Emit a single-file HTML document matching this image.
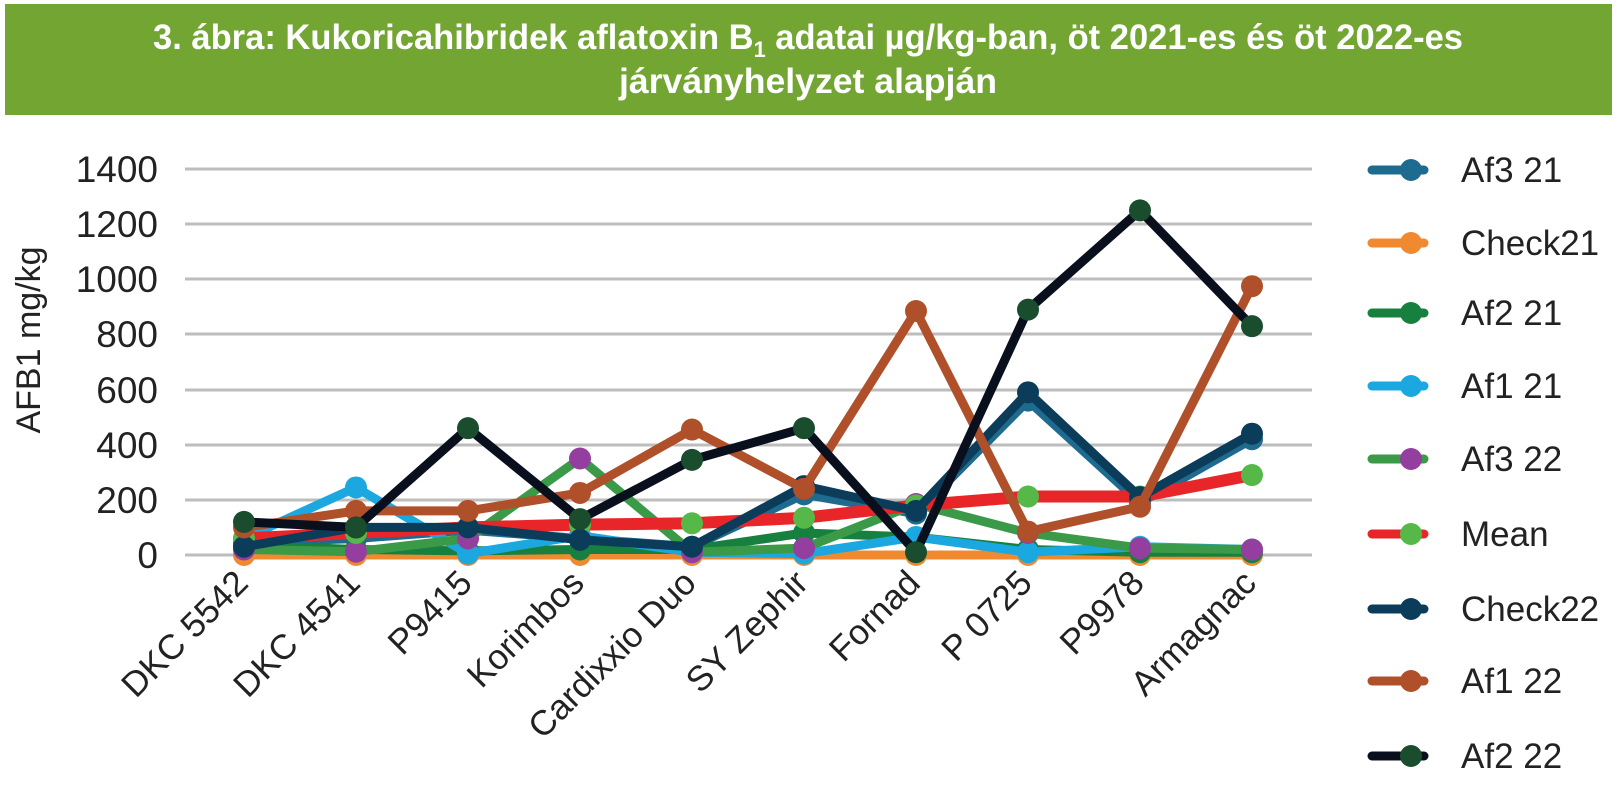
<!DOCTYPE html>
<html><head><meta charset="utf-8"><style>
body{margin:0;background:#fff;width:1617px;height:804px;overflow:hidden;font-family:"Liberation Sans",sans-serif}
</style></head><body>
<svg width="1617" height="804" viewBox="0 0 1617 804" xmlns="http://www.w3.org/2000/svg">
<rect x="5" y="4" width="1607" height="111" fill="#72a532"/>
<text x="808" y="49" text-anchor="middle" font-family="Liberation Sans Narrow, Liberation Sans, sans-serif" font-weight="bold" font-size="35" fill="#fff" textLength="1310" lengthAdjust="spacingAndGlyphs">3. ábra: Kukoricahibridek aflatoxin B<tspan font-size="22" dy="8">1</tspan><tspan dy="-8"> adatai µg/kg-ban, öt 2021-es és öt 2022-es</tspan></text>
<text x="808" y="93" text-anchor="middle" font-family="Liberation Sans Narrow, Liberation Sans, sans-serif" font-weight="bold" font-size="35" fill="#fff" textLength="378" lengthAdjust="spacingAndGlyphs">járványhelyzet alapján</text>
<g stroke="#bdbdbd" stroke-width="3">
<line x1="185" x2="1312" y1="169" y2="169"/><line x1="185" x2="1312" y1="224" y2="224"/><line x1="185" x2="1312" y1="279" y2="279"/><line x1="185" x2="1312" y1="334" y2="334"/><line x1="185" x2="1312" y1="390" y2="390"/><line x1="185" x2="1312" y1="445" y2="445"/><line x1="185" x2="1312" y1="500" y2="500"/><line x1="185" x2="1312" y1="555" y2="555"/>
</g>
<g font-size="37" fill="#222" text-anchor="end">
<text x="158" y="182">1400</text><text x="158" y="237">1200</text><text x="158" y="292">1000</text><text x="158" y="347">800</text><text x="158" y="403">600</text><text x="158" y="458">400</text><text x="158" y="513">200</text><text x="158" y="568">0</text>
</g>
<text transform="translate(40,340) rotate(-90)" text-anchor="middle" font-size="34" fill="#222">AFB1 mg/kg</text>
<g font-size="35" fill="#222" text-anchor="end">
<text transform="translate(250,585) rotate(-45)">DKC 5542</text>
<text transform="translate(362,585) rotate(-45)">DKC 4541</text>
<text transform="translate(474,585) rotate(-45)">P9415</text>
<text transform="translate(586,585) rotate(-45)">Korimbos</text>
<text transform="translate(698,585) rotate(-45)">Cardixxio Duo</text>
<text transform="translate(810,585) rotate(-45)">SY Zephir</text>
<text transform="translate(922,585) rotate(-45)">Fornad</text>
<text transform="translate(1034,585) rotate(-45)">P 0725</text>
<text transform="translate(1146,585) rotate(-45)">P9978</text>
<text transform="translate(1258,585) rotate(-45)">Armagnac</text>
</g>
<g id="series" fill="none" stroke-linejoin="round"></g>
<g id="legend"></g>
<script>
var xs=[244,356,468,580,692,804,916,1028,1140,1252];
function Y(v){return 555-v*0.2757;}
var S=[
["Af3  21","#1f6a8f","#1f6a8f",[45,60,90,60,30,220,150,560,190,420]],
["Check21","#f08a30","#f08a30",[0,0,0,0,0,0,0,0,0,0]],
["Af2 21","#18803e","#18803e",[35,20,15,20,20,80,65,20,10,10]],
["Af1 21","#1ba8e0","#1ba8e0",[60,245,5,70,10,5,65,10,30,20]],
["Af3 22","#3a9a48","#943ea0",[20,12,60,350,10,25,185,80,25,20]],
["Mean","#e8262a","#55b848",[60,80,100,110,115,135,180,212,212,290]],
["Check22","#0b3d5a","#0b3d5a",[30,100,100,55,30,250,160,590,210,440]],
["Af1 22","#b0502a","#b0502a",[100,160,160,225,455,240,885,85,175,975]],
["Af2 22","#0a0f1e","#1a4d2e",[120,100,460,130,345,460,10,890,1250,830]]
];
var g=document.getElementById("series"),L=document.getElementById("legend"),ns="http://www.w3.org/2000/svg";
var ly=[170,243,313,386,459,534,609,681,756];
S.forEach(function(s,i){
 var p=document.createElementNS(ns,"polyline");
 p.setAttribute("points",s[3].map(function(v,j){return xs[j]+","+Y(v)}).join(" "));
 p.setAttribute("stroke",s[1]);p.setAttribute("stroke-width",i==5?12:9);g.appendChild(p);
 s[3].forEach(function(v,j){var c=document.createElementNS(ns,"circle");c.setAttribute("cx",xs[j]);c.setAttribute("cy",Y(v));c.setAttribute("r",11);c.setAttribute("fill",s[2]);g.appendChild(c);});
 var l=document.createElementNS(ns,"line");l.setAttribute("x1",1372);l.setAttribute("x2",1424);l.setAttribute("y1",ly[i]);l.setAttribute("y2",ly[i]);l.setAttribute("stroke",s[1]);l.setAttribute("stroke-width",9);l.setAttribute("stroke-linecap","round");L.appendChild(l);
 var c=document.createElementNS(ns,"circle");c.setAttribute("cx",1411);c.setAttribute("cy",ly[i]);c.setAttribute("r",11);c.setAttribute("fill",s[2]);L.appendChild(c);
 var t=document.createElementNS(ns,"text");t.setAttribute("x",1461);t.setAttribute("y",ly[i]+12);t.setAttribute("font-size","35");t.setAttribute("fill","#222");t.textContent=s[0];L.appendChild(t);
});
</script>
</svg>
</body></html>
